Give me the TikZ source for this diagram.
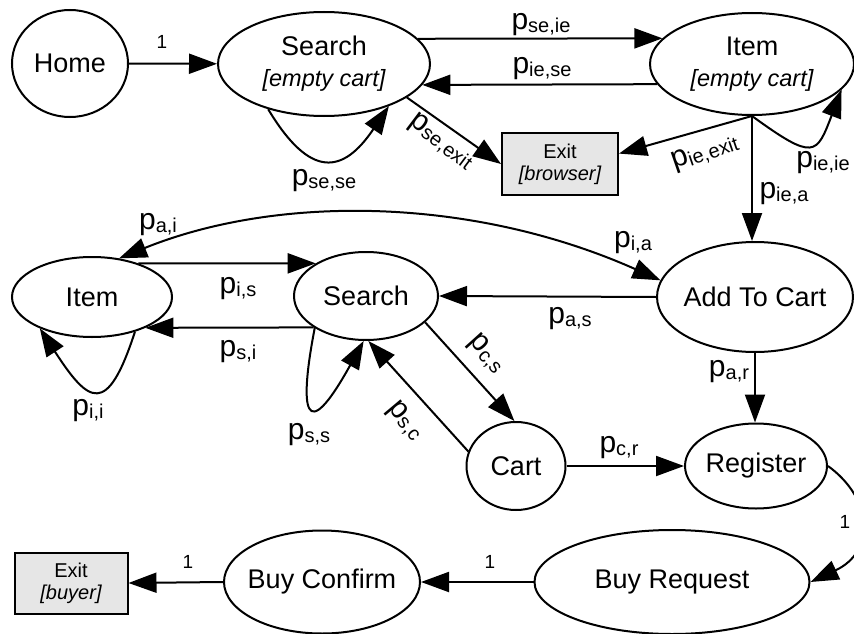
\documentclass[tikz,border=0pt]{standalone}
\usepackage{fontspec}
\setmainfont{Liberation Sans}
\usetikzlibrary{arrows.meta,shapes.geometric}
\definecolor{exitfill}{HTML}{E6E6E6}
% transition probability label: large p with a lowered subscript
\newcommand{\prob}[1]{p{\fontsize{20}{20}\selectfont\raisebox{-3pt}{#1}}}

\begin{document}
\begin{tikzpicture}[x=1pt,y=1pt,
  state/.style={ellipse,draw,line width=2pt,inner xsep=-10pt,inner ysep=0pt,
    font=\fontsize{27}{31}\selectfont,align=center},
  exitbox/.style={rectangle,draw,line width=2pt,fill=exitfill,inner sep=0pt,
    font=\fontsize{20}{22}\selectfont,align=center},
  tip/.tip={Triangle[length=28pt,width=20pt]},
  arr/.style={line width=2pt,-tip},
  lbl/.style={font=\fontsize{30}{30}\selectfont,inner sep=0pt},
  one/.style={font=\fontsize{19}{19}\selectfont,inner sep=0pt}]

\useasboundingbox (0,0) rectangle (854,-634);

% ---- states ----
\node[state,minimum width=116pt,minimum height=107pt] (home) at (70,-63.5) {Home};
\node[state,minimum width=212pt,minimum height=104pt] (se) at (324,-64)
  {Search\\{\fontsize{23.5}{31}\selectfont\itshape [empty cart]}};
\node[state,minimum width=204pt,minimum height=102pt] (ie) at (752,-64)
  {Item\\{\fontsize{23.5}{31}\selectfont\itshape [empty cart]}};
\node[exitbox,minimum width=116pt,minimum height=62pt] (exb) at (560,-164)
  {Exit\\{\itshape [browser]}};

\node[state,minimum width=160pt,minimum height=80pt] (it) at (92,-297) {Item};
\node[state,minimum width=144pt,minimum height=88pt] (s) at (366,-296) {Search};
\node[state,minimum width=196pt,minimum height=110pt] (add) at (755,-297) {Add To Cart};
\node[state,minimum width=99pt,minimum height=88pt] (cart) at (516,-466) {Cart};
\node[state,minimum width=142pt,minimum height=85pt] (reg) at (756,-466) {Register};
\node[state,minimum width=275pt,minimum height=104pt] (br) at (672,-582) {Buy Request};
\node[state,minimum width=196pt,minimum height=103pt] (bc) at (322,-582) {Buy Confirm};
\node[exitbox,minimum width=113pt,minimum height=61pt] (exy) at (71,-583)
  {Exit\\{\itshape [buyer]}};

% ---- transitions, empty cart part ----
\draw[arr] (home) -- (se) node[one] (l1) at (162,-42) {1};
\draw[arr] (se.15) -- (ie.164) node[lbl] (lseie) at (541,-25) {\prob{se,ie}};
\draw[arr] (ie.192) -- (se.-12) node[lbl] (liese) at (542,-69) {\prob{ie,se}};
\draw[arr] (se.-141) to[out=-59,in=-124,distance=82pt] (se.-33)
  node[lbl] (lsese) at (324,-181) {\prob{se,se}};
\draw[arr] (se.-22) -- (exb.west)
  node[lbl,rotate=-37] (lseex) at (441,-142) {\prob{se,exit}};
\draw[arr] (ie.south) -- (exb.10)
  node[lbl,rotate=19] (lieex) at (705,-153) {\prob{ie,exit}};
\draw[arr] (ie.south) to[out=-36,in=-111,out distance=77pt,in distance=70pt] (ie.-16)
  node[lbl] (lieie) at (823,-163) {\prob{ie,ie}};
\draw[arr] (ie.south) -- (ie.south |- add.north)
  node[lbl] (liea) at (784,-194) {\prob{ie,a}};

% ---- transitions, shopping part ----
\draw[line width=2pt,tip-tip] (it.55)
  to[out=22,in=156,out distance=172pt,in distance=205pt] (add.170)
  node[lbl] (lai) at (158,-225) {\prob{a,i}}
  node[lbl] (lia) at (633,-243) {\prob{i,a}};
\draw[arr] (it.36) -- (s.147) node[lbl] (lis) at (238,-289) {\prob{i,s}};
\draw[arr] (s.211) -- (it.-30) node[lbl] (lsi) at (238,-352) {\prob{s,i}};
\draw[arr] (it.-39) to[out=-108,in=-57,distance=90pt] (it.-149)
  node[lbl] (lii) at (88,-411) {\prob{i,i}};
\draw[arr] (s.-148) to[out=-101,in=-119,out distance=83pt,in distance=123pt] (s.-93)
  node[lbl] (lss) at (309,-435) {\prob{s,s}};
\draw[arr] (add.west) -- (s.east) node[lbl] (las) at (570,-319) {\prob{a,s}};
\draw[arr] (s.-24) -- (cart.92)
  node[lbl,rotate=-48] (lcs) at (486,-354) {\prob{c,s}};
\draw[arr] (cart.163) -- (s.-87)
  node[lbl,rotate=-50] (lsc) at (405,-421) {\prob{s,c}};
\draw[arr] (add.south) -- (add.south |- reg.north)
  node[lbl] (lar) at (729,-372) {\prob{a,r}};
\draw[arr] (cart.east) -- (reg.west) node[lbl] (lcr) at (619,-448) {\prob{c,r}};

% ---- checkout ----
\draw[arr] (reg.east) to[out=-36,in=25,out distance=56pt,in distance=72pt] (br.east)
  node[one] (l2) at (845,-522) {1};
\draw[arr] (br.west) -- (bc.east) node[one] (l3) at (490,-562) {1};
\draw[arr] (bc.west) -- (exy.east) node[one] (l4) at (188,-562) {1};

\end{tikzpicture}
\end{document}
